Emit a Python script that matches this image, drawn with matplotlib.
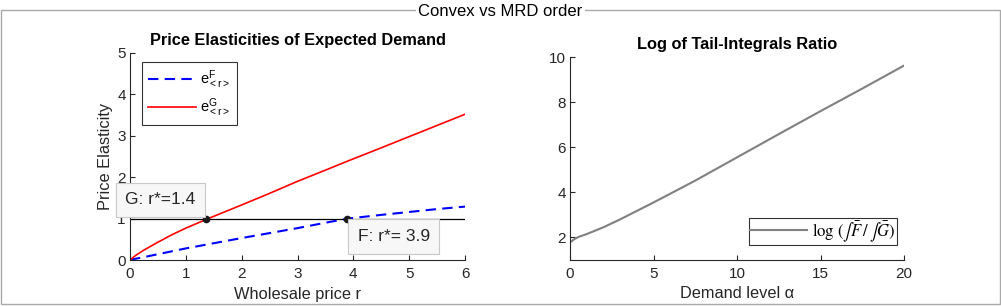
import matplotlib
matplotlib.use("Agg")
import matplotlib.pyplot as plt
from matplotlib.patches import Rectangle

# ---------------- data ----------------
r_vals = [0, 0.1, 0.25, 0.5, 0.75, 1.0, 1.4, 2.0, 2.5, 3.0, 3.5, 3.9, 4.5, 5.0, 5.5, 6.0]
eF_vals = [0, 0.03, 0.07, 0.14, 0.21, 0.28, 0.38, 0.53, 0.65, 0.77, 0.90, 1.00, 1.09, 1.16, 1.23, 1.29]
eG_vals = [0, 0.11, 0.24, 0.43, 0.61, 0.77, 1.00, 1.33, 1.61, 1.90, 2.17, 2.39, 2.71, 2.98, 3.25, 3.52]
rstar_G = 1.36
rstar_F = 3.88
tipG = "G: r*=1.4"
tipF = "F: r*= 3.9"

alpha_vals = [0, 0.25, 0.5, 1.0, 2.0, 3.0, 5.0, 7.5, 10.0, 12.5, 15.0, 17.5, 20.0]
logratio_vals = [1.78, 1.92, 2.02, 2.15, 2.45, 2.80, 3.55, 4.52, 5.55, 6.58, 7.60, 8.60, 9.62]

left_xticks = [0, 1, 2, 3, 4, 5, 6]
left_yticks = [0, 1, 2, 3, 4, 5]
right_xticks = [0, 5, 10, 15, 20]
right_yticks = [2, 4, 6, 8, 10]

# ---------------- style ----------------
plt.rcParams['font.family'] = ['Liberation Sans', 'DejaVu Sans']
plt.rcParams['mathtext.fontset'] = 'custom'
plt.rcParams['mathtext.rm'] = 'Liberation Sans'
plt.rcParams['mathtext.it'] = 'Liberation Sans:italic'
axc = '#262626'

W, H = 1001, 307
fig = plt.figure(figsize=(W / 100, H / 100), dpi=100)

def fx(px):
    return px / W

def fy(py):
    return 1 - py / H

# panel border
fig.add_artist(Rectangle((fx(0.5), fy(304)), fx(999.5), fy(10) - fy(304),
                         transform=fig.transFigure, fill=False,
                         edgecolor='#a9a9a9', linewidth=1.0))
fig.text(0.5, fy(12), "Convex vs MRD order", ha='center', va='center',
         fontsize=12, color='black',
         bbox=dict(facecolor='white', edgecolor='none', pad=2))

def style_axes(ax):
    for s in ['top', 'right']:
        ax.spines[s].set_visible(False)
    for s in ['left', 'bottom']:
        ax.spines[s].set_color(axc)
        ax.spines[s].set_linewidth(0.8)
    ax.tick_params(direction='in', length=3.5, width=0.8, colors=axc,
                   labelsize=11, labelcolor=axc, pad=3)
    ax.tick_params(axis='x', pad=5)

# ---------------- left axes ----------------
ax1 = fig.add_axes([fx(130), fy(260), fx(465 - 130), fy(53) - fy(260)])
style_axes(ax1)
ax1.plot(r_vals, eF_vals, '--', color='#0000ff', linewidth=1.5,
         dashes=(5, 3), label=r'$\mathregular{e^{F}_{<r>}}$')
ax1.plot(r_vals, eG_vals, '-', color='#ff0000', linewidth=1.2,
         label=r'$\mathregular{e^{G}_{<r>}}$')
ax1.plot([0, 6], [1, 1], '-', color='black', linewidth=0.9)
ax1.plot([rstar_G, rstar_F], [1, 1], 'o', color='#1a1a1a', markersize=4.5)
ax1.set_xlim(0, 6)
ax1.set_ylim(0, 5)
ax1.set_xticks(left_xticks)
ax1.set_yticks(left_yticks)
ax1.set_title("Price Elasticities of Expected Demand", fontsize=11.8,
              fontweight='bold', pad=6)
ax1.set_xlabel("Wholesale price r", fontsize=11.8, color=axc, labelpad=4)
ax1.set_ylabel("Price Elasticity", fontsize=11.8, color=axc, labelpad=3)
leg1 = ax1.legend(loc='upper left', bbox_to_anchor=(0.036, 0.955),
                  fontsize=10.5, frameon=True, fancybox=False,
                  handlelength=3.3, handletextpad=0.3, borderpad=0.4,
                  labelspacing=0.4, borderaxespad=0)
leg1.get_frame().set_edgecolor('black')
leg1.get_frame().set_linewidth(0.8)

tip_box = dict(boxstyle='square,pad=0.55', facecolor='#f7f7f7',
               edgecolor='#c8c8c8', linewidth=0.8)
ax1.annotate(tipG, xy=(rstar_G, 1), xytext=(-7.5, 8), textcoords='offset points',
             ha='right', va='bottom', fontsize=12.5, color='#262626', bbox=tip_box)
ax1.annotate(tipF, xy=(rstar_F, 1), xytext=(8, -7.5), textcoords='offset points',
             ha='left', va='top', fontsize=12.5, color='#262626', bbox=tip_box)

# ---------------- right axes ----------------
ax2 = fig.add_axes([fx(570), fy(260), fx(904 - 570), fy(57) - fy(260)])
style_axes(ax2)
ax2.plot(alpha_vals, logratio_vals, '-', color='#808080', linewidth=1.5,
         label=r'$\log\,(\int\bar{F}\,/\,\int\bar{G})$')
ax2.set_xlim(0, 20)
ax2.set_ylim(1, 10)
ax2.set_xticks(right_xticks)
ax2.set_yticks(right_yticks)
ax2.set_title("Log of Tail-Integrals Ratio", fontsize=11.8,
              fontweight='bold', pad=6)
ax2.set_xlabel("Demand level α", fontsize=11.8, color=axc, labelpad=4)
leg2 = ax2.legend(loc='lower right', bbox_to_anchor=(0.98, 0.074),
                  fontsize=12, frameon=True, fancybox=False,
                  handlelength=3.4, handletextpad=0.35, borderpad=0.08,
                  borderaxespad=0)
leg2.get_frame().set_edgecolor('black')
leg2.get_frame().set_linewidth(0.8)
for t in leg2.get_texts():
    t.set_math_fontfamily('stix')

fig.savefig("out.png", dpi=100)
